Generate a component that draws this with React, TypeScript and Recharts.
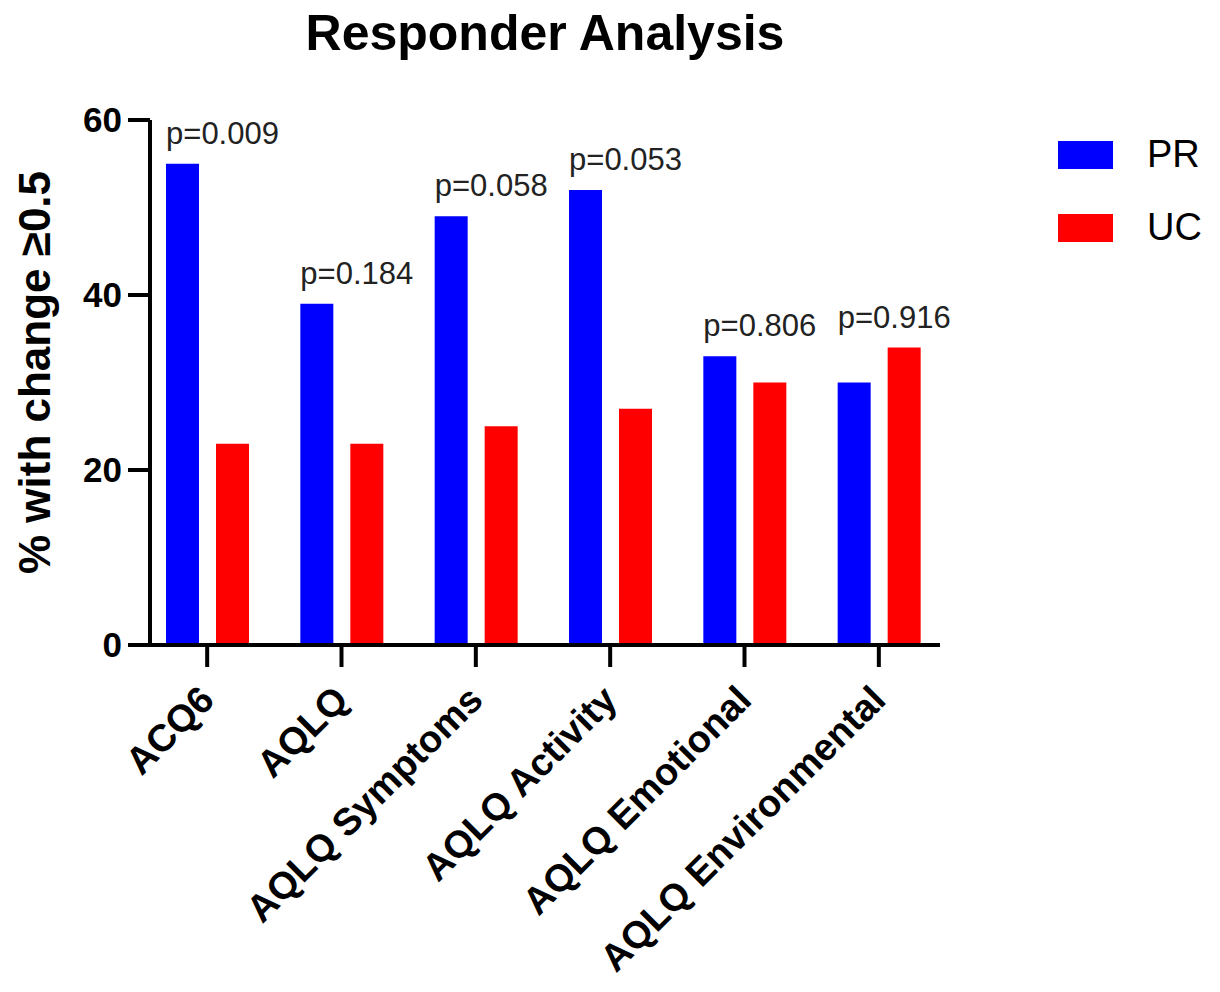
import React from 'react';
import { BarChart, Bar, XAxis, YAxis, Legend, LabelList } from 'recharts';

const categories = ['ACQ6', 'AQLQ', 'AQLQ Symptoms', 'AQLQ Activity', 'AQLQ Emotional', 'AQLQ Environmental'];
const prValues = [55, 39, 49, 52, 33, 30];
const ucValues = [23, 23, 25, 27, 30, 34];
const pValues = ['p=0.009', 'p=0.184', 'p=0.058', 'p=0.053', 'p=0.806', 'p=0.916'];
const yTicks = [0, 20, 40, 60];

const data = categories.map((name, i) => ({ name, PR: prValues[i], UC: ucValues[i] }));

const FONT = '"Liberation Sans", Arial, sans-serif';
const BAR_GAP = 17;

// rotated category labels under the x axis
const XTick = (props: any) => {
    const { x, y, payload } = props;
    const ax = x + 9;
    const ay = y + 33;
    return (
        <text x={ax} y={ay} transform={`rotate(-45 ${ax} ${ay})`} textAnchor="end"
            fontSize={38} fontWeight="bold" fontFamily={FONT} fill="#000">
            {payload.value}
        </text>
    );
};

// p-value above the taller bar of each group
const PLabel = (props: any) => {
    const vb = props.viewBox || props;
    const { x, y, width, height } = vb;
    const i = props.index;
    const base = y + height;
    const perUnit = height / prValues[i];
    const top = Math.min(y, base - ucValues[i] * perUnit);
    const cx = x + width + BAR_GAP / 2 + 15;
    return (
        <text x={cx} y={top - 20} textAnchor="middle" fontSize={31} fontFamily={FONT} fill="#222">
            {pValues[i]}
        </text>
    );
};

const YLabel = (props: any) => {
    const vb = props.viewBox;
    const lx = 50;
    const ly = vb.y + vb.height / 2 - 10;
    return (
        <text x={lx} y={ly} transform={`rotate(-90 ${lx} ${ly})`} textAnchor="middle"
            fontSize={44} fontWeight="bold" fontFamily={FONT} fill="#000">
            % with change ≥0.5
        </text>
    );
};

const LegendContent = (props: any) => (
    <div>
        {(props.payload || []).map((p: any) => (
            <div key={p.value} style={{ display: 'flex', alignItems: 'center', height: 73 }}>
                <div style={{ width: 55, height: 28, background: p.color }} />
                <span style={{ marginLeft: 34, fontSize: 38, fontFamily: FONT, color: '#000' }}>{p.value}</span>
            </div>
        ))}
    </div>
);

const App: React.FC = () => {
    return (
        <div style={{ position: 'absolute', left: 0, top: 0, width: 1220, height: 992, background: '#fff' }}>
            <div style={{
                position: 'absolute', left: 150, top: 8, width: 790, textAlign: 'center',
                fontFamily: FONT, fontWeight: 'bold', fontSize: 50, lineHeight: '50px', color: '#000', zIndex: 2
            }}>
                Responder Analysis
            </div>
            <BarChart
                width={1220}
                height={992}
                data={data}
                margin={{ top: 120, right: 280, bottom: 0, left: 0 }}
                barGap={BAR_GAP}
                barSize={33}
            >
                <XAxis
                    dataKey="name"
                    height={347}
                    interval={0}
                    tickSize={22}
                    padding={{ left: -10, right: -6 }}
                    axisLine={{ stroke: '#000', strokeWidth: 4 }}
                    tickLine={{ stroke: '#000', strokeWidth: 4 }}
                    tick={<XTick />}
                />
                <YAxis
                    domain={[0, 60]}
                    ticks={yTicks}
                    interval={0}
                    width={150}
                    tickSize={22}
                    tickMargin={6}
                    axisLine={{ stroke: '#000', strokeWidth: 4 }}
                    tickLine={{ stroke: '#000', strokeWidth: 4 }}
                    tick={{ fontSize: 35, fontWeight: 'bold', fill: '#000', fontFamily: FONT }}
                    label={YLabel}
                />
                <Legend
                    layout="vertical"
                    align="center"
                    verticalAlign="middle"
                    wrapperStyle={{ left: 1058, top: 118, width: 160 }}
                    content={LegendContent}
                />
                <Bar dataKey="PR" fill="#0000ff" isAnimationActive={false}>
                    <LabelList dataKey="PR" content={PLabel} />
                </Bar>
                <Bar dataKey="UC" fill="#ff0000" isAnimationActive={false} />
            </BarChart>
        </div>
    );
};

export default App;
